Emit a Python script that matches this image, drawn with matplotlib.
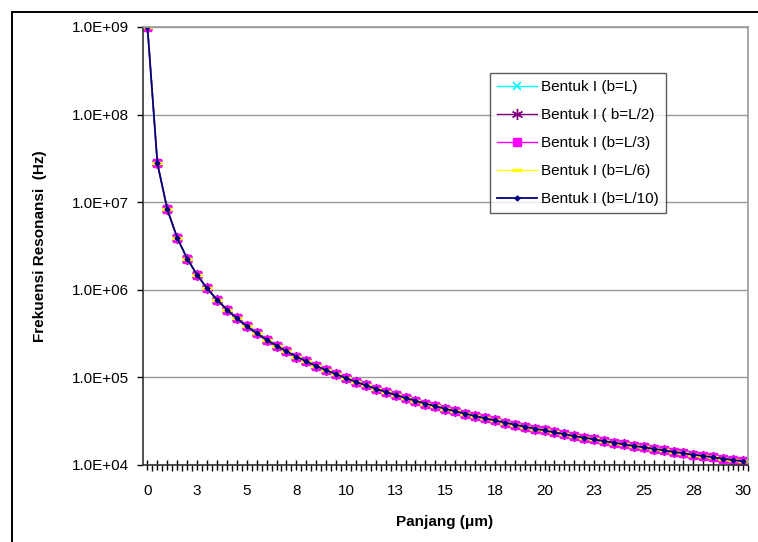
# resonance frequency vs length, five shape variants (log scale)
import matplotlib
matplotlib.use("Agg")
import matplotlib.pyplot as plt
import matplotlib.patches as patches
import numpy as np

plt.rcParams['font.family'] = ['Liberation Sans', 'DejaVu Sans']

# length categories (um) and the labels shown on the axis
panjang = [0.1, 0.6, 1.1, 1.6, 2.1, 2.6, 3.1, 3.6, 4.1, 4.6,
           5.1, 5.6, 6.1, 6.6, 7.1, 7.6, 8.1, 8.6, 9.1, 9.6,
           10.1, 10.6, 11.1, 11.6, 12.1, 12.6, 13.1, 13.6, 14.1, 14.6,
           15.1, 15.6, 16.1, 16.6, 17.1, 17.6, 18.1, 18.6, 19.1, 19.6,
           20.1, 20.6, 21.1, 21.6, 22.1, 22.6, 23.1, 23.6, 24.1, 24.6,
           25.1, 25.6, 26.1, 26.6, 27.1, 27.6, 28.1, 28.6, 29.1, 29.6, 30.1]
x_labels = ["0", "3", "5", "8", "10", "13", "15", "18", "20", "23", "25", "28", "30"]

# resonance frequency (Hz), all shapes practically coincide
frek = [1.0e9, 2.78e7, 8.26e6, 3.91e6, 2.27e6, 1.48e6, 1.04e6, 7.72e5, 5.95e5, 4.73e5,
        3.84e5, 3.19e5, 2.69e5, 2.30e5, 1.98e5, 1.73e5, 1.52e5, 1.35e5, 1.21e5, 1.09e5,
        9.80e4, 8.90e4, 8.12e4, 7.43e4, 6.83e4, 6.30e4, 5.83e4, 5.41e4, 5.03e4, 4.69e4,
        4.39e4, 4.11e4, 3.86e4, 3.63e4, 3.42e4, 3.23e4, 3.05e4, 2.89e4, 2.74e4, 2.60e4,
        2.48e4, 2.36e4, 2.25e4, 2.14e4, 2.05e4, 1.96e4, 1.87e4, 1.80e4, 1.72e4, 1.65e4,
        1.59e4, 1.53e4, 1.47e4, 1.41e4, 1.36e4, 1.31e4, 1.27e4, 1.22e4, 1.18e4, 1.14e4, 1.10e4]
frek_b_L = frek
frek_b_L2 = frek
frek_b_L3 = frek
frek_b_L6 = frek
frek_b_L10 = frek

y_ticks = [1e4, 1e5, 1e6, 1e7, 1e8, 1e9]
y_labels = ["1.0E+04", "1.0E+05", "1.0E+06", "1.0E+07", "1.0E+08", "1.0E+09"]

fig = plt.figure(figsize=(7.58, 5.42), dpi=100)
fig.patch.set_facecolor('white')

# chart frame
frame = patches.Rectangle((12 / 758, -0.05), 1.1, 1 - 12 / 542 + 0.05,
                          transform=fig.transFigure, fill=False,
                          edgecolor='black', linewidth=1.4)
fig.add_artist(frame)

ax = fig.add_axes([143 / 758, 77 / 542, 605 / 758, 438 / 542])
pos = np.arange(len(panjang))

ax.plot(pos, frek_b_L, color='#00FFFF', lw=1.0, marker='x', ms=6, mew=1.2,
        label='Bentuk I (b=L)')
ax.plot(pos, frek_b_L2, color='#800080', lw=1.0, marker=(6, 2, 0), ms=8, mew=1.0,
        label='Bentuk I ( b=L/2)')
ax.plot(pos, frek_b_L3, color='#FF00FF', lw=1.0, marker='s', ms=6,
        mec='#FF00FF', label='Bentuk I (b=L/3)')
ax.plot(pos, frek_b_L6, color='#FFFF00', lw=1.0, marker='_', ms=7, mew=2.5,
        label='Bentuk I (b=L/6)')
ax.plot(pos, frek_b_L10, color='#000080', lw=1.3, marker='D', ms=2.5,
        label='Bentuk I (b=L/10)')

ax.set_yscale('log')
ax.set_ylim(1e4, 1e9)
ax.set_xlim(-0.45, 60.5)
ax.set_yticks(y_ticks)
ax.set_yticklabels(y_labels, fontsize=11)
ax.yaxis.set_minor_locator(matplotlib.ticker.NullLocator())
ax.tick_params(axis='y', direction='out', length=4, width=1, pad=6, colors='black')

ax.set_xticks(pos)
ax.set_xticklabels([x_labels[i // 5] if i % 5 == 0 else "" for i in pos], fontsize=11)
ax.set_xticks(pos + 0.5, minor=True)
ax.tick_params(axis='x', which='major', direction='inout', length=7, width=1, pad=10)
ax.tick_params(axis='x', which='minor', direction='out', length=4, width=1)

ax.yaxis.grid(True, color='#999999', lw=1)
ax.set_axisbelow(True)
for side in ['top', 'right']:
    ax.spines[side].set_color('#999999')
    ax.spines[side].set_linewidth(1.2)
for side in ['left', 'bottom']:
    ax.spines[side].set_color('#333333')
    ax.spines[side].set_linewidth(1.2)

fig.text(445 / 758, 1 - 522 / 542, u'Panjang (\u03bcm)', fontsize=11,
         fontweight='bold', ha='center', va='center')
fig.text(40 / 758, 1 - 246 / 542, 'Frekuensi Resonansi  (Hz)', fontsize=11,
         fontweight='bold', ha='center', va='center', rotation=90)

leg = ax.legend(loc='upper left', bbox_to_anchor=((490 - 143) / 605, (465 - 73) / 438),
                borderaxespad=0, fontsize=11, frameon=True, fancybox=False,
                handlelength=2.6, labelspacing=0.92, handletextpad=0.3,
                borderpad=0.45)
leg.get_frame().set_edgecolor('#333333')
leg.get_frame().set_linewidth(1.0)

fig.savefig('out.png', dpi=100)
